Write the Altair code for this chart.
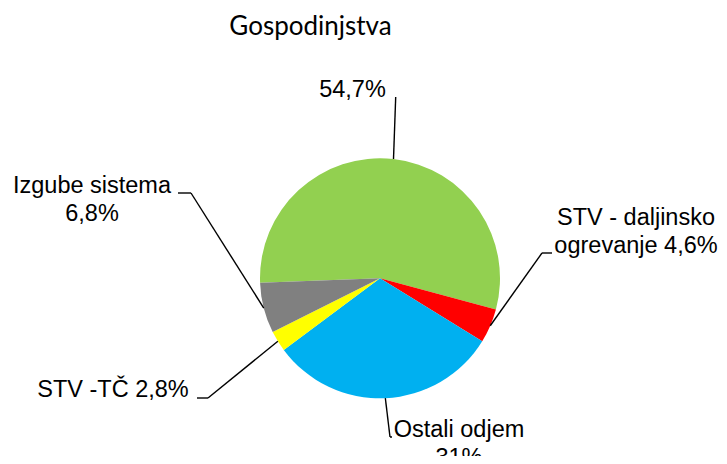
import math
import altair as alt
import pandas as pd

# ---- data ----
title_text = "Gospodinjstva"
categories = ["Ogrevanje", "STV - daljinsko ogrevanje", "Ostali odjem", "STV -TČ", "Izgube sistema"]
values = [54.7, 4.6, 31.0, 2.8, 6.8]
labels = ["54,7%", "STV - daljinsko\nogrevanje 4,6%", "Ostali odjem\n31%", "STV -TČ 2,8%", "Izgube sistema\n6,8%"]
colors = ["#92D050", "#FF0000", "#00B0F0", "#FFFF00", "#808080"]

# ---- layout (pixels in plot coordinates) ----
W, H = 711, 448
CX, CY, R = 372, 270.3, 120
START = math.radians(267.9)
total = sum(values)
# label anchor (center x, first baseline y), elbow of leader, end of leader
label_x = [344.5, 628, 451, 105, 84]
label_y = [89.3, 217, 428.7, 389.3, 185.3]
elbow_x = [387.7, 534, 382, 200, 183]
elbow_y = [89, 245, 429, 390, 185]
end_x = [387.7, 544, 384, 189, 170]

df = pd.DataFrame({
    "cat": categories, "value": values, "label": labels, "ord": list(range(len(values))),
    "lx": label_x, "ly": label_y, "bx": elbow_x, "by": elbow_y, "tx": end_x,
})

base = alt.Chart(df)

pie = base.mark_arc(outerRadius=R).encode(
    theta=alt.Theta("value:Q", stack=True,
                    scale=alt.Scale(domain=[0, total], range=[START, START + 2 * math.pi], nice=False)),
    order=alt.Order("ord:Q"),
    color=alt.Color("cat:N", scale=alt.Scale(domain=categories, range=colors), legend=None),
    x=alt.value(CX), y=alt.value(CY),
)

geo = base.transform_window(
    cum="sum(value)", sort=[alt.SortField("ord")], frame=[None, 0]
).transform_calculate(
    a=f"{START} + 2*PI*(datum.cum - datum.value/2)/{total}"
).transform_calculate(
    ex=f"{CX} + {R}*sin(datum.a)", ey=f"{CY} - {R}*cos(datum.a)"
)

diag = geo.mark_rule(color="black", strokeWidth=1.4).encode(
    x=alt.X("ex:Q", scale=None, axis=None), y=alt.Y("ey:Q", scale=None, axis=None),
    x2="bx:Q", y2="by:Q",
)
horiz = base.mark_rule(color="black", strokeWidth=1.4).encode(
    x=alt.X("bx:Q", scale=None, axis=None), y=alt.Y("by:Q", scale=None, axis=None),
    x2="tx:Q",
)

text = base.mark_text(font="Liberation Sans", fontSize=23.5, align="center", baseline="alphabetic",
                      lineBreak="\n", lineHeight=28, color="black").encode(
    x=alt.X("lx:Q", scale=None, axis=None), y=alt.Y("ly:Q", scale=None, axis=None),
    text="label:N",
)

title = alt.Chart(pd.DataFrame({"t": [title_text]})).mark_text(
    font="Lato", fontSize=26, align="center", baseline="alphabetic", color="black"
).encode(x=alt.value(302.5), y=alt.value(27), text="t:N")

chart = alt.layer(pie, diag, horiz, text, title).properties(
    width=W, height=H, padding=0, autosize="none"
).configure_view(stroke=None)

chart.save("out.html", embed_options={"renderer": "svg", "actions": False})
